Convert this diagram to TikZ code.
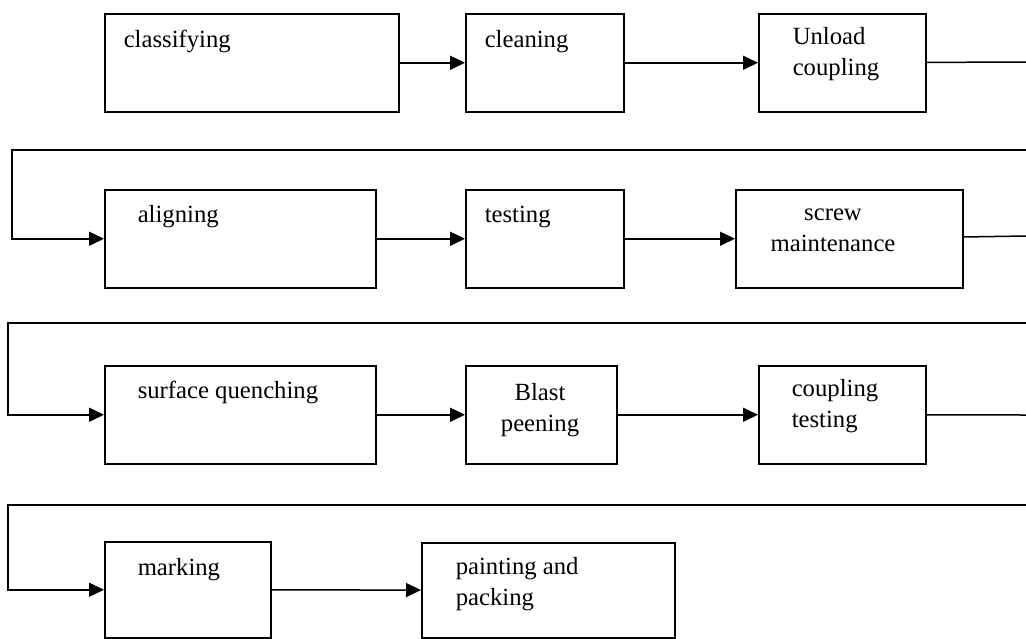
\documentclass[tikz,border=0pt]{standalone}
\usepackage{fontspec}
\setmainfont{Liberation Serif}
\usetikzlibrary{arrows.meta}

\begin{document}
\begin{tikzpicture}[x=1pt, y=-1pt, line width=1.5pt,
    proc/.style={draw, anchor=north west, inner sep=0pt, minimum height=98pt},
    txt/.style={anchor=base west, inner sep=0pt, align=left, font=\fontsize{24.7}{31}\selectfont},
    ctxt/.style={txt, anchor=base, align=center},
    arr/.style={-{Triangle[length=15pt,width=14pt]}}]
      \useasboundingbox (0,0) rectangle (1026,638);
      \node[proc, minimum width=294pt] (classify) at (104,13) {};
      \node[proc, minimum width=158pt] (clean) at (465,13) {};
      \node[proc, minimum width=167pt] (unload) at (758,13) {};
      \node[proc, minimum width=271pt] (align) at (104,189) {};
      \node[proc, minimum width=158pt] (test) at (465,189) {};
      \node[proc, minimum width=227pt] (screw) at (735,189) {};
      \node[proc, minimum width=271pt] (quench) at (104,365) {};
      \node[proc, minimum width=151pt] (blast) at (465,365) {};
      \node[proc, minimum width=167pt] (cptest) at (758,365) {};
      \node[proc, minimum width=166pt, minimum height=96pt] (mark) at (104,541) {};
      \node[proc, minimum width=253pt, minimum height=95pt] (paint) at (421,542) {};
      \node[txt] (tclassify) at (123,47) {classifying};
      \node[txt] (tclean) at (484,47) {cleaning};
      \node[txt] (tunload) at (792,75) {Unload\\coupling};
      \node[txt] (talign) at (137,222) {aligning};
      \node[txt] (ttest) at (484,222) {testing};
      \node[ctxt] (tscrew) at (833,251) {screw\\maintenance};
      \node[txt] (tquench) at (137,398) {surface quenching};
      \node[ctxt] (tblast) at (540,431) {Blast\\peening};
      \node[txt] (tcptest) at (791,427) {coupling\\testing};
      \node[txt] (tmark) at (137,575) {marking};
      \node[txt] (tpaint) at (455,605) {painting and\\packing};
      \coordinate (r1) at (1026,62);
      \coordinate (r2) at (1026,150);
      \coordinate (l2) at (12,150);
      \coordinate (r3) at (1026,236);
      \coordinate (r4) at (1026,323);
      \coordinate (l4) at (8,323);
      \coordinate (r5) at (1026,415);
      \coordinate (r6) at (1026,505);
      \coordinate (l6) at (8,505);
      \draw[arr] (classify) -- (clean);
      \draw[arr] (clean) -- (unload);
      \draw (unload) -- (r1);
      \draw[arr] (r2) -- (l2) |- (align);
      \draw[arr] (align) -- (test);
      \draw[arr] (test) -- (screw);
      \draw (screw) -- (r3);
      \draw[arr] (r4) -- (l4) |- (quench);
      \draw[arr] (quench) -- (blast);
      \draw[arr] (blast) -- (cptest);
      \draw (cptest) -- (r5);
      \draw[arr] (r6) -- (l6) |- (mark);
      \draw[arr] (mark) -- (paint);
    \end{tikzpicture}
\end{document}
